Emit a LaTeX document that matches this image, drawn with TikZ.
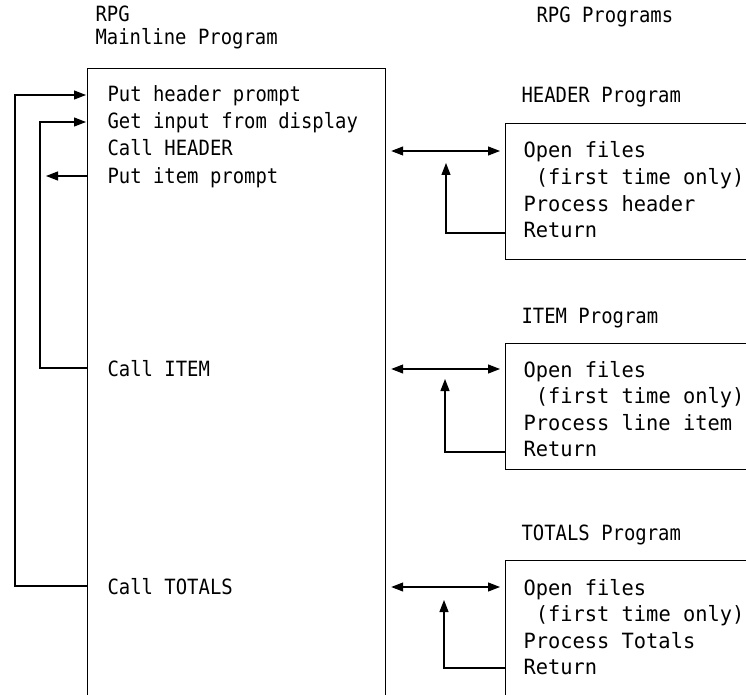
\documentclass[tikz,border=0pt]{standalone}
\usepackage{fontspec}
\setmonofont{DejaVu Sans Mono}[FakeStretch=0.9]
\newfontfamily\widemono{DejaVu Sans Mono}[FakeStretch=0.97]
\usetikzlibrary{arrows.meta}
\begin{document}
\begin{tikzpicture}[x=1pt,y=-1pt,line width=1.2pt,
  lbl/.style={anchor=base west,inner sep=0pt,font=\ttfamily\fontsize{21}{24}\selectfont},
  rlbl/.style={anchor=base west,inner sep=0pt,font=\widemono\fontsize{21}{24}\selectfont},
  box/.style={draw,anchor=north west,inner sep=0pt,line width=1.2pt},
  arr/.style={-{Triangle[length=12pt,width=9pt]}},
  darr/.style={{Triangle[length=12pt,width=9pt]}-{Triangle[length=12pt,width=9pt]}}]
\useasboundingbox (0,0) rectangle (746,695);
\clip (0,0) rectangle (746,695);
% headings
\node[lbl] (rpg) at (95,22) {RPG};
\node[lbl] (mainline) at (95,45) {Mainline Program};
\node[lbl] (programs) at (536,23) {RPG Programs};
% boxes
\node[box,minimum width=298pt,minimum height=680pt] (main) at (87,68) {};
\node[box,minimum width=300pt,minimum height=136pt] (hbox) at (505,123) {};
\node[box,minimum width=300pt,minimum height=126pt] (ibox) at (505,343) {};
\node[box,minimum width=300pt,minimum height=200pt] (tbox) at (505,560) {};
% mainline text
\node[lbl] (m1) at (107,102) {Put header prompt};
\node[lbl] (m2) at (107,129) {Get input from display};
\node[lbl] (m3) at (107,156) {Call HEADER};
\node[lbl] (m4) at (107,183) {Put item prompt};
\node[lbl] (m5) at (107,376) {Call ITEM};
\node[lbl] (m6) at (107,594) {Call TOTALS};
% program labels and text
\node[lbl] (hlab) at (521,103) {HEADER Program};
\node[rlbl] (h1) at (523,158) {Open files};
\node[rlbl] (h2) at (523,184.5) {\ (first time only)};
\node[rlbl] (h3) at (523,211) {Process header};
\node[rlbl] (h4) at (523,237.5) {Return};
\node[lbl] (ilab) at (521,323) {ITEM Program};
\node[rlbl] (i1) at (523,377) {Open files};
\node[rlbl] (i2) at (523,403.5) {\ (first time only)};
\node[rlbl] (i3) at (523,430) {Process line item};
\node[rlbl] (i4) at (523,456.5) {Return};
\node[lbl] (tlab) at (521,540) {TOTALS Program};
\node[rlbl] (t1) at (523,595) {Open files};
\node[rlbl] (t2) at (523,621.5) {\ (first time only)};
\node[rlbl] (t3) at (523,648) {Process Totals};
\node[rlbl] (t4) at (523,674.5) {Return};
% coordinates for connector rows
\coordinate (yph) at (0,95);
\coordinate (ygi) at (0,122);
\coordinate (ypi) at (0,176);
\coordinate (yci) at (0,368);
\coordinate (yct) at (0,586);
\coordinate (outer) at (15,0);
\coordinate (inner) at (40,0);
\coordinate (pitip) at (46,176);
\coordinate (hcall) at (0,151);
\coordinate (hret) at (446,233);
\coordinate (htip) at (446,163);
\coordinate (icall) at (0,369);
\coordinate (iret) at (445,452);
\coordinate (itip) at (445,379);
\coordinate (tcall) at (0,587);
\coordinate (tret) at (444,668);
\coordinate (ttip) at (444,600);
% left loops
\draw[arr] (main.west |- yct) -- (outer |- yct) -- (outer |- yph) -- ([xshift=-1pt]main.west |- yph);
\draw[arr] (main.west |- yci) -- (inner |- yci) -- (inner |- ygi) -- ([xshift=-1pt]main.west |- ygi);
\draw[arr] (main.west |- ypi) -- (pitip);
% calls
\draw[darr] ([xshift=5pt]main.east |- hcall) -- ([xshift=-5pt]hbox.west |- hcall);
\draw[darr] ([xshift=5pt]main.east |- icall) -- ([xshift=-5pt]ibox.west |- icall);
\draw[darr] ([xshift=5pt]main.east |- tcall) -- ([xshift=-5pt]tbox.west |- tcall);
% returns
\draw[arr] (hbox.west |- hret) -- (hret) -- (htip);
\draw[arr] (ibox.west |- iret) -- (iret) -- (itip);
\draw[arr] (tbox.west |- tret) -- (tret) -- (ttip);
\end{tikzpicture}
\end{document}
